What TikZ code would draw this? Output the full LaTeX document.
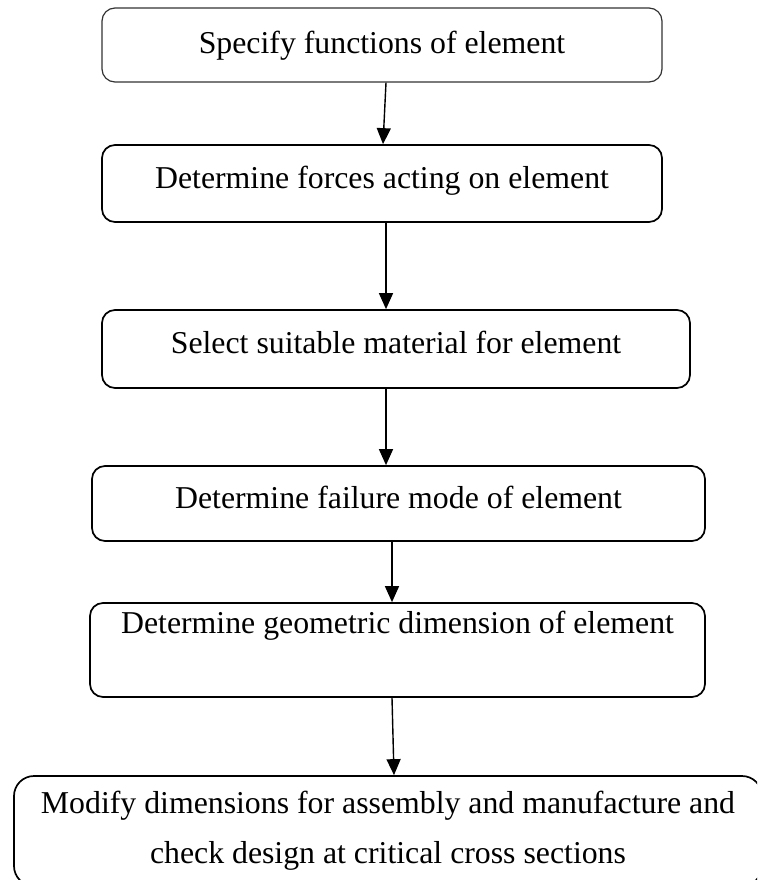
\documentclass[tikz,border=0pt]{standalone}
\usepackage{fontspec}
\setmainfont{Liberation Serif}
\usetikzlibrary{arrows.meta}
\tikzset{
  box/.style={draw=black, line width=1.7pt, rounded corners=13pt, inner sep=0pt,
    text height=22pt, font=\fontsize{31.8}{50}\selectfont},
  arr/.style={draw=black, line width=1.4pt, -{Triangle[length=16pt,width=14pt]}}
}
\begin{document}
\begin{tikzpicture}[x=1pt,y=-1pt]
\useasboundingbox (0,0) rectangle (757,880);
\clip (0,0) rectangle (757,880);
\node[box, draw=black!80, line width=1.2pt, minimum width=560pt, minimum height=74pt, text depth=4pt] (b1) at (382,45) {Specify functions of element};
\node[box, minimum width=560pt, minimum height=77pt, text depth=13pt] (b2) at (382,183.5) {Determine forces acting on element};
\node[box, minimum width=588pt, minimum height=78pt, text depth=14pt] (b3) at (396,349) {Select suitable material for element};
\node[box, minimum width=613pt, minimum height=75pt, text depth=13pt] (b4) at (398.5,503.5) {Determine failure mode of element};
\node[box, minimum width=615pt, minimum height=94pt, text depth=56pt] (b5) at (397.5,650) {Determine geometric dimension of element};
\node[box, rounded corners=20pt, minimum width=748pt, minimum height=110pt, text height=, align=center] (b6) at (388,831) {Modify dimensions for assembly and manufacture and\\check design at critical cross sections};
\draw[arr] ([xshift=4pt]b1.south) -- ([xshift=1pt]b2.north);
\draw[arr] ([xshift=4pt]b2.south) -- ([xshift=4pt]b2.south |- b3.north);
\draw[arr] ([xshift=-10pt]b3.south) -- ([xshift=-10pt]b3.south |- b4.north);
\draw[arr] ([xshift=-6.5pt]b4.south) -- ([xshift=-6.5pt]b4.south |- b5.north);
\draw[arr] ([xshift=-5.5pt]b5.south) -- ([xshift=6pt]b6.north);
\end{tikzpicture}
\end{document}
